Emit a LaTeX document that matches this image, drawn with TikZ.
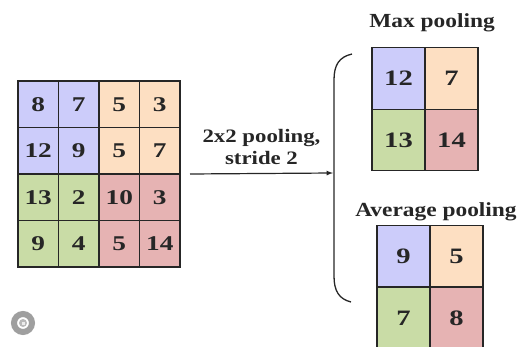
\documentclass[tikz,border=0pt]{standalone}
\usepackage{fontspec}
\setmainfont{Liberation Serif}
\usetikzlibrary{positioning}
\definecolor{poolblue}{HTML}{CCCCFA}
\definecolor{poolorange}{HTML}{FDDFC2}
\definecolor{poolgreen}{HTML}{C9DCA6}
\definecolor{poolred}{HTML}{E6B3B3}
\definecolor{inkgray}{HTML}{262626}
\newcommand{\widetext}[2][1.3]{\scalebox{#1}[1]{#2}}

\begin{document}
\begin{tikzpicture}[x=1pt,y=-1pt,>=latex,thick,
      cell/.style={draw=inkgray,line width=1.4pt,outer sep=0pt,inner sep=0pt,
        minimum width=40.5pt,minimum height=46.5pt,text=inkgray,
        font=\fontsize{21}{21}\selectfont\bfseries},
      big cell/.style={cell,minimum width=53pt,minimum height=61.5pt,
        font=\fontsize{22}{22}\selectfont\bfseries},
      title/.style={text=inkgray,font=\fontsize{20}{20}\selectfont\bfseries}]

      \useasboundingbox (0,0) rectangle (519,347);

      % input feature map
      \foreach \v/\c [count=\i from 0] in {8/poolblue,7/poolblue,5/poolorange,3/poolorange,
          12/poolblue,9/poolblue,5/poolorange,7/poolorange,
          13/poolgreen,2/poolgreen,10/poolred,3/poolred,
          9/poolgreen,4/poolgreen,5/poolred,14/poolred}
        \node[cell,fill=\c] (in\i) at ({38.25+40.5*mod(\i,4)},{104.25+46.5*int(\i/4)}) {\widetext{\v}};

      % max pooling output
      \node[title] (maxtitle) at (432,23) {\widetext[1.17]{Max pooling}};
      \node[big cell,fill=poolblue]   (max1) at (398.5,78.5) {\widetext{12}};
      \node[big cell,fill=poolorange] (max2) at (451.5,78.5) {\widetext{7}};
      \node[big cell,fill=poolgreen]  (max3) at (398.5,140) {\widetext{13}};
      \node[big cell,fill=poolred]    (max4) at (451.5,140) {\widetext{14}};

      % average pooling output
      \node[title] (avgtitle) at (436,212) {\widetext[1.17]{Average pooling}};
      \node[big cell,fill=poolblue]   (avg1) at (403.5,256) {\widetext{9}};
      \node[big cell,fill=poolorange] (avg2) at (456.5,256) {\widetext{5}};
      \node[big cell,fill=poolgreen]  (avg3) at (403.5,318) {\widetext{7}};
      \node[big cell,fill=poolred]    (avg4) at (456.5,318) {\widetext{8}};

      % brace
      \coordinate (brace) at (333,173);
      \draw[line width=1.3pt,draw=inkgray] (352,54) .. controls (339,57) and (334,65) .. (334,80)
        -- (334,276) .. controls (334,291) and (339,299) .. (351,302);

      \draw[->,draw=inkgray,line width=1.2pt] ([xshift=10pt]in7.south east) -- (brace)
        node[midway,above=5pt,align=center,text=inkgray,
          font=\fontsize{19}{22}\selectfont\bfseries] {\widetext[1.2]{2x2 pooling,}\\\widetext[1.2]{stride 2}};

      % corner icon
      \draw[gray!75,line width=6pt] (23,323) circle (9);
      \fill[gray!55] (23,323) circle (4);
      \fill[white!85!gray] (21.5,321.5) rectangle (24.5,324.5);
\end{tikzpicture}
\end{document}
